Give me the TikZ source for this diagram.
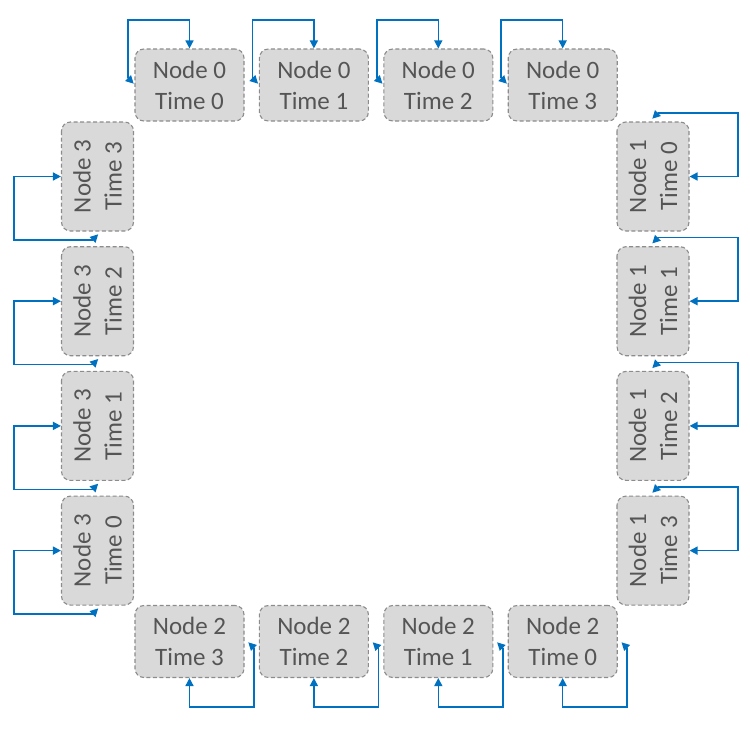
\documentclass[tikz,border=0pt]{standalone}
\usepackage{fontspec}
\setmainfont{Carlito}
\usetikzlibrary{calc,arrows.meta}
\definecolor{boxfill}{HTML}{D9D9D9}
\definecolor{boxline}{HTML}{8C8C8C}
\definecolor{txt}{HTML}{555555}
\definecolor{loopblue}{HTML}{0070C0}
\begin{document}
\begin{tikzpicture}[x=1pt,y=-1pt,
  cell/.style={draw=boxline, dash pattern=on 4pt off 2.5pt, line width=1.1pt,
    fill=boxfill, rounded corners=9pt, minimum width=109pt, minimum height=72pt,
    inner sep=0pt, align=center, text=txt, font=\fontsize{25}{31}\selectfont},
  vcell/.style={cell, rotate=90},
  loopline/.style={draw=loopblue, line width=1.5pt},
  tipend/.style={loopline, -{Triangle[length=8pt,width=8pt]}},
]
\useasboundingbox (0,0) rectangle (750,731);
% top row: Node 0
\node[cell] (t0) at (189.5,85) {Node 0\\Time 0};
\node[cell] (t1) at (313.9,85) {Node 0\\Time 1};
\node[cell] (t2) at (438.3,85) {Node 0\\Time 2};
\node[cell] (t3) at (562.7,85) {Node 0\\Time 3};
% right column: Node 1
\node[vcell] (r0) at (653,176.5) {Node 1\\Time 0};
\node[vcell] (r1) at (653,301.2) {Node 1\\Time 1};
\node[vcell] (r2) at (653,425.9) {Node 1\\Time 2};
\node[vcell] (r3) at (653,550.6) {Node 1\\Time 3};
% bottom row: Node 2
\node[cell] (b0) at (562.7,641.5) {Node 2\\Time 0};
\node[cell] (b1) at (438.3,641.5) {Node 2\\Time 1};
\node[cell] (b2) at (313.9,641.5) {Node 2\\Time 2};
\node[cell] (b3) at (189.5,641.5) {Node 2\\Time 3};
% left column: Node 3
\node[vcell] (l0) at (97.5,550.6) {Node 3\\Time 0};
\node[vcell] (l1) at (97.5,425.9) {Node 3\\Time 1};
\node[vcell] (l2) at (97.5,301.2) {Node 3\\Time 2};
\node[vcell] (l3) at (97.5,176.5) {Node 3\\Time 3};
% loops
\foreach \i in {0,...,3} {
  \draw[tipend] ($(t\i)+(-61.5,-7)$) -- ($(t\i)+(-61.5,-65)$) -- ($(t\i)+(0,-65)$) -- (t\i.north);
  \draw[tipend] ($(t\i)+(-61.5,-7)$) -- ++(5.7,5.7);
  \draw[tipend] ($(r\i)+(5,-63.5)$) -- ($(r\i)+(85,-63.5)$) -- ($(r\i)+(85,0)$) -- (r\i.south);
  \draw[tipend] ($(r\i)+(5,-63.5)$) -- ++(-5.7,5.7);
  \draw[tipend] ($(b\i)+(64.5,6.5)$) -- ($(b\i)+(64.5,65.5)$) -- ($(b\i)+(0,65.5)$) -- (b\i.south);
  \draw[tipend] ($(b\i)+(64.5,6.5)$) -- ++(-5.7,-5.7);
  \draw[tipend] ($(l\i)+(-5,63.5)$) -- ($(l\i)+(-83.5,63.5)$) -- ($(l\i)+(-83.5,0)$) -- (l\i.north);
  \draw[tipend] ($(l\i)+(-5,63.5)$) -- ++(5.7,-5.7);
}
\end{tikzpicture}
\end{document}
